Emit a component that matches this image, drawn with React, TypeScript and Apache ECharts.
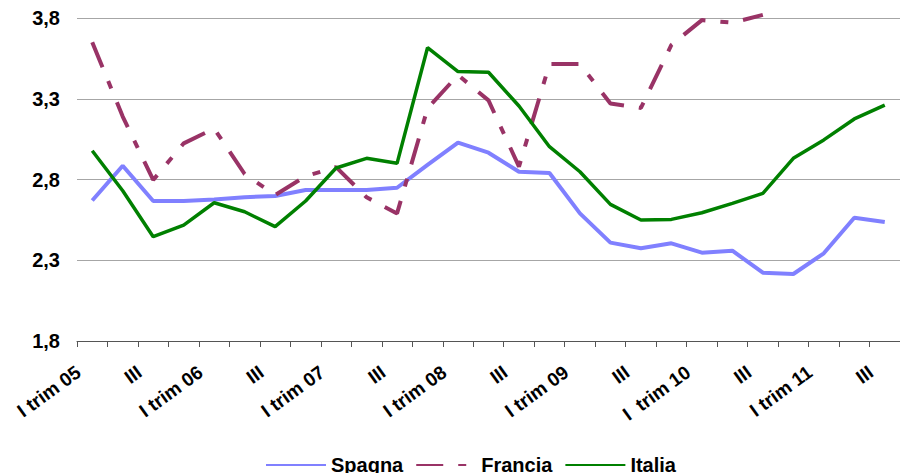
import React, { useEffect, useRef } from "react";
import * as echarts from "echarts";

const categories = [
  "I trim 05", "II", "III", "IV",
  "I trim 06", "II", "III", "IV",
  "I trim 07", "II", "III", "IV",
  "I trim 08", "II", "III", "IV",
  "I trim 09", "II", "III", "IV",
  "I  trim 10", "II", "III", "IV",
  "I trim 11", "II", "III",
];

const spagna = [
  2.67, 2.885, 2.667, 2.667, 2.676, 2.69, 2.698, 2.735, 2.735, 2.735, 2.749,
  2.89, 3.028, 2.966, 2.848, 2.84, 2.59, 2.409, 2.374, 2.405, 2.347, 2.359,
  2.223, 2.215, 2.343, 2.563, 2.537,
];

const francia = [
  3.65, 3.19, 2.797, 3.024, 3.115, 2.834, 2.704, 2.82, 2.877, 2.69, 2.59,
  3.24, 3.447, 3.29, 2.88, 3.515, 3.515, 3.271, 3.243, 3.633, 3.787, 3.771,
  3.819, null, null, null, null,
];

const italia = [
  2.978, 2.73, 2.446, 2.518, 2.656, 2.6, 2.508, 2.667, 2.871, 2.931, 2.9,
  3.616, 3.468, 3.464, 3.255, 3.003, 2.848, 2.646, 2.549, 2.553, 2.594, 2.652,
  2.714, 2.931, 3.045, 3.175, 3.261,
];

const seriesNames = ["Spagna", "Francia", "Italia"];
const yMin = 1.8;
const yMax = 3.8;
const yStep = 0.5;

const FONT = '"Liberation Sans", Arial, sans-serif';

export default function App() {
  const ref = useRef<HTMLDivElement>(null);

  useEffect(() => {
    if (!ref.current) return;
    const chart = echarts.init(ref.current, null, { renderer: "svg" });
    chart.setOption({
      animation: false,
      backgroundColor: "#ffffff",
      textStyle: { fontFamily: FONT },
      grid: { left: 77, top: 18, width: 829, height: 323 },
      legend: {
        left: 260,
        top: 450,
        itemWidth: 60,
        itemHeight: 18,
        itemGap: 12,
        data: seriesNames,
        itemStyle: { opacity: 0 },
        textStyle: {
          fontFamily: FONT,
          fontSize: 20,
          fontWeight: "bold",
          color: "#000",
        },
      },
      xAxis: {
        type: "category",
        data: categories,
        boundaryGap: true,
        axisLine: { show: true, lineStyle: { color: "#555", width: 1 } },
        axisTick: { show: true, length: 6, lineStyle: { color: "#555" }, interval: 0 },
        axisLabel: {
          interval: 1,
          rotate: 36,
          margin: 19,
          padding: [0, 17, 0, 0],
          fontFamily: FONT,
          fontSize: 19,
          fontWeight: "bold",
          color: "#000",
        },
        splitLine: { show: false },
      },
      yAxis: {
        type: "value",
        min: yMin,
        max: yMax,
        interval: yStep,
        axisLine: { show: false },
        axisTick: { show: false },
        axisLabel: {
          margin: 17,
          fontFamily: FONT,
          fontSize: 20,
          fontWeight: "bold",
          color: "#000",
          formatter: (v: number) => v.toFixed(1).replace(".", ","),
        },
        splitLine: { show: true, lineStyle: { color: "#a6a6a6", width: 1 } },
      },
      series: [
        {
          name: "Spagna",
          type: "line",
          data: spagna,
          symbol: "none",
          clip: false,
          lineStyle: { color: "#8080ff", width: 4 },
          itemStyle: { color: "#8080ff" },
          z: 2,
        },
        {
          name: "Francia",
          type: "line",
          data: francia,
          symbol: "none",
          clip: false,
          connectNulls: false,
          lineStyle: { color: "#993366", width: 4, type: [27, 15, 8, 15] },
          itemStyle: { color: "#993366" },
          z: 3,
        },
        {
          name: "Italia",
          type: "line",
          data: italia,
          symbol: "none",
          clip: false,
          lineStyle: { color: "#008000", width: 3.5 },
          itemStyle: { color: "#008000" },
          z: 4,
        },
      ],
    });
    return () => chart.dispose();
  }, []);

  return (
    <div
      ref={ref}
      style={{ position: "absolute", left: 0, top: 0, width: 900, height: 473 }}
    />
  );
}
